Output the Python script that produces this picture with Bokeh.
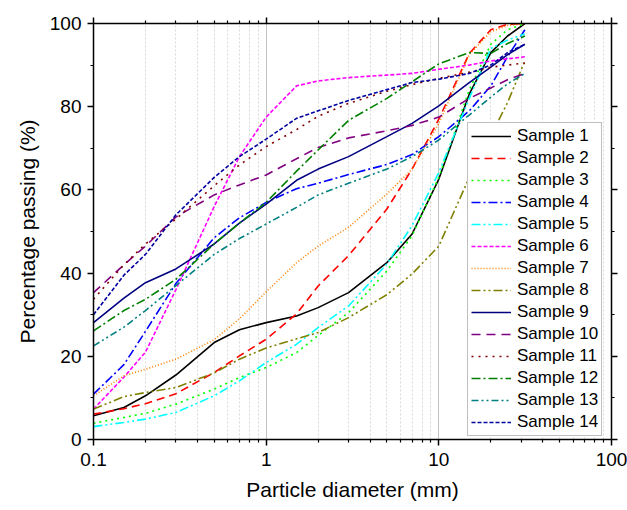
from bokeh.plotting import figure
from bokeh.models import (FixedTicker, LogAxis, LinearAxis, Legend, LegendItem,
                          CustomJSTickFormatter, Range1d)
from bokeh.embed import file_html
from bokeh.resources import INLINE

# ---------------- data ----------------
diameter = [0.1, 0.15, 0.2, 0.3, 0.5, 0.7, 1, 1.5, 2, 3, 5, 7, 10, 15, 20, 25, 31.5]

s1 = [5.7, 7.7, 10.5, 15.5, 23.3, 26.4, 28.1, 29.7, 31.7, 35.3, 42.5, 49.4, 62.6, 83.0, 93.0, 97.0, 100.0]
s2 = [6.1, 7.4, 8.6, 11.0, 16.1, 20.1, 24.1, 30.2, 36.9, 44.2, 55.4, 65.0, 77.0, 92.8, 98.5, 99.8, 100.0]
s3 = [3.9, 5.3, 6.3, 8.5, 12.1, 14.9, 17.3, 20.9, 25.0, 30.5, 40.5, 49.0, 63.0, 84.0, 95.0, 98.5, 100.0]
s4 = [10.9, 18.0, 26.0, 37.5, 48.5, 53.3, 57.0, 60.3, 61.6, 63.7, 66.1, 68.5, 72.8, 79.0, 85.0, 92.0, 98.5]
s5 = [3.1, 4.1, 4.9, 6.5, 10.5, 14.1, 18.5, 22.9, 26.9, 32.1, 42.2, 51.4, 64.2, 82.0, 94.0, 96.0, 97.5]
s6 = [7.3, 15.0, 21.0, 36.0, 56.0, 68.0, 77.5, 85.0, 86.2, 87.0, 87.6, 88.0, 89.0, 90.0, 91.0, 91.5, 92.0]
s7 = [10.5, 15.3, 16.9, 19.3, 24.0, 29.0, 35.5, 42.5, 46.5, 51.0, 59.0, 65.0, 76.0, 92.5, 98.0, 99.5, 100.0]
s8 = [7.3, 10.3, 11.3, 12.5, 16.0, 19.3, 22.0, 24.2, 25.7, 29.3, 34.8, 39.8, 46.5, 63.0, 73.0, 81.0, 91.0]
s9 = [28.1, 34.0, 37.7, 41.0, 47.0, 52.0, 56.6, 62.3, 65.0, 68.0, 72.8, 76.0, 80.2, 85.8, 89.5, 92.5, 95.0]
s10 = [35.3, 42.0, 46.5, 53.5, 58.8, 61.2, 63.6, 67.5, 70.2, 72.5, 74.2, 75.5, 77.5, 82.0, 84.5, 86.5, 88.0]
s11 = [33.7, 42.0, 47.0, 53.0, 61.0, 66.0, 70.4, 74.5, 77.7, 80.8, 83.7, 85.3, 86.8, 88.3, 89.5, 90.0, 90.5]
s12 = [26.1, 31.0, 33.7, 38.5, 47.0, 52.0, 57.0, 64.5, 69.6, 76.7, 82.0, 86.0, 90.3, 93.0, 92.8, 95.2, 97.0]
s13 = [22.5, 27.0, 31.0, 37.0, 44.5, 48.3, 51.8, 55.8, 58.8, 61.6, 65.0, 68.0, 72.0, 78.0, 82.3, 85.5, 88.0]
s14 = [30.0, 39.5, 44.5, 54.0, 63.0, 68.0, 72.2, 77.2, 79.0, 81.5, 84.1, 85.8, 86.6, 88.0, 90.0, 93.0, 95.0]

series = [s1, s2, s3, s4, s5, s6, s7, s8, s9, s10, s11, s12, s13, s14]
labels = ["Sample %d" % i for i in range(1, 15)]
colors = ["#000000", "#FF0000", "#00FF00", "#0000FF", "#00FFFF", "#FF00FF", "#FF8000",
          "#808000", "#000080", "#800080", "#800000", "#008000", "#008080", "#0000A0"]
dashes = ["solid", "8 5", "2 4", "9 3 2 3", "9 3 2 3 2 3", "4 2", "1 2",
          "9 3 2 3 2 3", "solid", "9 6", "2 5", "9 3 2 3", "7 3 2 3 2 3", "4 2"]

x_ticks = [0.1, 1, 10, 100]
x_tick_labels = {0.1: "0.1", 1: "1", 10: "10", 100: "100"}
x_minor = [0.2, 0.3, 0.4, 0.5, 0.6, 0.7, 0.8, 0.9, 2, 3, 4, 5, 6, 7, 8, 9,
           20, 30, 40, 50, 60, 70, 80, 90]
y_ticks = [0, 20, 40, 60, 80, 100]
y_minor = [10, 30, 50, 70, 90]

FONT = "Liberation Sans"

p = figure(width=627, height=510, x_axis_type="log",
           x_range=Range1d(0.1, 100), y_range=Range1d(0, 100),
           output_backend="svg", toolbar_location=None,
           min_border_left=93, min_border_right=16, min_border_top=23, min_border_bottom=71)
p.outline_line_color = None
p.background_fill_color = "white"

xt = FixedTicker(ticks=x_ticks, minor_ticks=x_minor)
yt = FixedTicker(ticks=y_ticks, minor_ticks=y_minor)

def style_axis(ax):
    ax.axis_line_width = 1.5
    ax.axis_line_color = "black"
    ax.major_tick_line_width = 1.5
    ax.minor_tick_line_width = 1.2
    ax.major_tick_in = 0
    ax.major_tick_out = 6
    ax.minor_tick_in = 0
    ax.minor_tick_out = 3
    ax.major_label_text_font = FONT
    ax.major_label_text_font_size = "19px"
    ax.major_label_text_color = "black"
    ax.axis_label_text_font = FONT
    ax.axis_label_text_font_size = "21px"
    ax.axis_label_text_font_style = "normal"
    ax.axis_label_text_color = "black"

xa = p.xaxis[0]
xa.ticker = xt
xa.major_label_overrides = x_tick_labels
xa.axis_label = "Particle diameter (mm)"
xa.major_label_standoff = 7
xa.axis_label_standoff = 9
style_axis(xa)

ya = p.yaxis[0]
ya.ticker = yt
ya.axis_label = "Percentage passing (%)"
ya.major_label_standoff = 6
ya.axis_label_standoff = 8
style_axis(ya)

blank = CustomJSTickFormatter(code="return ''")
top = LogAxis(ticker=xt, formatter=blank)
style_axis(top)
top.major_label_text_font_size = "1px"
top.major_label_standoff = 0
p.add_layout(top, "above")

right = LinearAxis(ticker=yt, formatter=blank)
style_axis(right)
right.major_label_text_font_size = "1px"
right.major_label_standoff = 0
p.add_layout(right, "right")

p.ygrid.grid_line_color = None
p.xgrid.ticker = xt
p.xgrid.grid_line_color = "#c4c4c4"
p.xgrid.grid_line_width = 1
p.xgrid.minor_grid_line_color = "#d8d8d8"
p.xgrid.minor_grid_line_dash = "2 2"
p.xgrid.minor_grid_line_width = 1

items = []
for s, lab, c, d in zip(series, labels, colors, dashes):
    r = p.line(diameter, s, line_color=c, line_width=1.6, line_dash=d)
    items.append(LegendItem(label=lab, renderers=[r]))

legend = Legend(items=items, location=(374, 3))
legend.margin = 0
legend.padding = 3
legend.spacing = 2
legend.label_height = 20
legend.glyph_height = 20
legend.glyph_width = 40
legend.label_standoff = 6
legend.label_text_font = FONT
legend.label_text_font_size = "17px"
legend.label_text_color = "black"
legend.border_line_color = "#808080"
legend.border_line_width = 1
legend.background_fill_color = "white"
legend.background_fill_alpha = 1
p.add_layout(legend)

open("out.html", "w").write(file_html(p, INLINE))
